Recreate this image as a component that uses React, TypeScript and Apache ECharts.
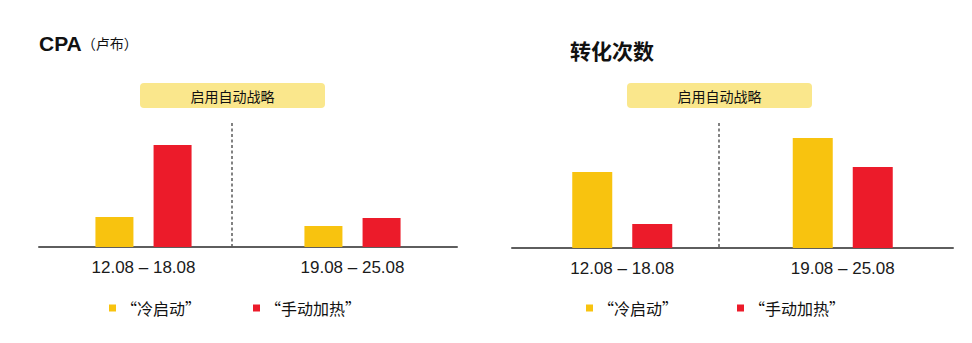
import React, { useEffect, useRef } from "react";
import * as echarts from "echarts";

// Week ranges on both charts
const categories = ["12.08 – 18.08", "19.08 – 25.08"];
const seriesNames = ["“冷启动”", "“手动加热”"];

// CPA (rubles), relative bar heights per week
const cpaColdStart = [30, 21];
const cpaManualBoost = [102, 29];
// Conversions, relative bar heights per week
const convColdStart = [76, 110];
const convManualBoost = [24, 81];

const YELLOW = "#F8C30F";
const RED = "#EC1B2A";
const BADGE = "#FAE78C";
const FONT = "'Liberation Sans', Arial, 'Noto Sans CJK SC', sans-serif";
const CJK = "'Noto Sans CJK SC', 'Liberation Sans', sans-serif";

export default function App() {
  const ref = useRef<HTMLDivElement>(null);

  useEffect(() => {
    document.body.style.margin = "0";
    if (!ref.current) return;
    const chart = echarts.init(ref.current, null, { renderer: "svg" });

    const xAxisBase = (gridIndex: number) => ({
      type: "category",
      gridIndex,
      data: categories,
      axisLine: { lineStyle: { color: "#5e5e5e", width: 2 } },
      axisTick: { show: false },
      axisLabel: { fontSize: 17, color: "#1a1a1a", fontFamily: FONT, margin: 12 },
    });
    const yAxisBase = (gridIndex: number, max: number) => ({
      type: "value",
      gridIndex,
      min: 0,
      max,
      show: false,
      splitLine: { show: false },
    });
    const bar = (
      name: string,
      data: number[],
      color: string,
      idx: number,
      width: number,
      gap: string
    ) => ({
      type: "bar",
      name,
      data,
      xAxisIndex: idx,
      yAxisIndex: idx,
      barWidth: width,
      barGap: gap,
      itemStyle: { color },
    });

    const legend = (left: number, gap: number) => ({
      left,
      top: 300,
      padding: 0,
      data: seriesNames,
      icon: "rect",
      itemWidth: 7,
      itemHeight: 7,
      itemGap: gap,
      selectedMode: false,
      textStyle: { fontSize: 16, color: "#111", fontFamily: CJK },
    });

    const badge = (x: number) => ({
      type: "group",
      x,
      y: 83,
      children: [
        {
          type: "rect",
          shape: { x: 0, y: 0, width: 185, height: 25, r: 4 },
          style: { fill: BADGE },
        },
        {
          type: "text",
          x: 92.5,
          y: 12.5,
          style: {
            text: "启用自动战略",
            fontSize: 14,
            fontFamily: CJK,
            fill: "#111",
            align: "center",
            verticalAlign: "middle",
          },
        },
      ],
    });

    const divider = (x: number, y2: number) => ({
      type: "line",
      shape: { x1: x, y1: 123, x2: x, y2 },
      style: { stroke: "#5a5a5a", lineWidth: 1.5, lineDash: [3, 2.5] },
      z: 5,
    });

    chart.setOption({
      animation: false,
      grid: [
        { left: 39, top: 123, width: 418, height: 124 },
        { left: 512, top: 123, width: 441, height: 125 },
      ],
      xAxis: [xAxisBase(0), xAxisBase(1)],
      yAxis: [yAxisBase(0, 124), yAxisBase(1, 125)],
      legend: [legend(109, 52), legend(586, 59)],
      series: [
        bar(seriesNames[0], cpaColdStart, YELLOW, 0, 38, "53%"),
        bar(seriesNames[1], cpaManualBoost, RED, 0, 38, "53%"),
        bar(seriesNames[0], convColdStart, YELLOW, 1, 40, "50%"),
        bar(seriesNames[1], convManualBoost, RED, 1, 40, "50%"),
      ],
      graphic: [
        {
          type: "text",
          x: 39,
          y: 43,
          style: {
            text: "{a|CPA}{b|（卢布）}",
            verticalAlign: "middle",
            rich: {
              a: { fontSize: 21, fontWeight: "bold", fontFamily: FONT, fill: "#111" },
              b: { fontSize: 14, fontFamily: CJK, fill: "#111" },
            },
          },
        },
        {
          type: "text",
          x: 570,
          y: 50,
          style: {
            text: "转化次数",
            fontSize: 21,
            fontWeight: "bold",
            fontFamily: CJK,
            fill: "#111",
            verticalAlign: "middle",
          },
        },
        badge(140),
        badge(627),
        divider(232, 247),
        divider(719, 248),
      ],
    });

    return () => chart.dispose();
  }, []);

  return <div ref={ref} style={{ width: 972, height: 343 }} />;
}
